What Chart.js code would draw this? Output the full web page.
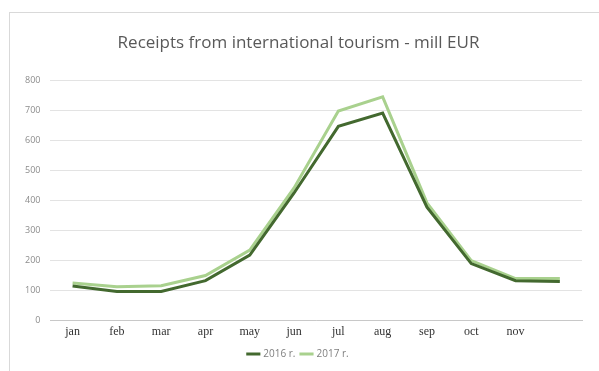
<!DOCTYPE html>
<html>
<head>
<meta charset="utf-8">
<script src="https://cdn.jsdelivr.net/npm/chart.js@4"></script>
<style>
  html, body { margin: 0; padding: 0; background: #fff; }
  #wrap { position: relative; width: 599px; height: 371px; }
</style>
</head>
<body>
<div id="wrap"><canvas id="grafico" width="599" height="371"></canvas></div>
<script>
// data
const meses = ['jan', 'feb', 'mar', 'apr', 'may', 'jun', 'jul', 'aug', 'sep', 'oct', 'nov', ''];
const valores2016 = [115, 97, 97, 133, 218, 425, 647, 691, 378, 190, 133, 130];
const valores2017 = [125, 113, 116, 150, 235, 442, 698, 745, 392, 200, 140, 140];
const yTicks = [0, 100, 200, 300, 400, 500, 600, 700, 800];

// frame around the chart area
const moldura = {
  id: 'moldura',
  beforeDraw(chart) {
    const ctx = chart.ctx;
    ctx.save();
    ctx.strokeStyle = '#d9d9d9';
    ctx.lineWidth = 1;
    ctx.strokeRect(9.5, 12.5, 620, 400);
    ctx.restore();
  }
};

const ctx = document.getElementById('grafico');

new Chart(ctx, {
  type: 'line',
  data: {
    labels: meses,
    datasets: [
      {
        label: '2016 r.',
        data: valores2016,
        borderColor: '#43692f',
        backgroundColor: '#43692f',
        borderWidth: 3,
        pointRadius: 0,
        tension: 0
      },
      {
        label: '2017 r.',
        data: valores2017,
        borderColor: '#a9d18e',
        backgroundColor: '#a9d18e',
        borderWidth: 3,
        pointRadius: 0,
        tension: 0
      }
    ]
  },
  plugins: [moldura],
  options: {
    responsive: false,
    animation: false,
    devicePixelRatio: 1,
    layout: { padding: { left: 15, right: 17, top: 10, bottom: 2 } },
    plugins: {
      title: {
        display: true,
        text: 'Receipts from international tourism - mill EUR',
        color: '#595959',
        font: { family: 'Open Sans', size: 17, weight: 'normal' },
        padding: { top: 23, bottom: 27 }
      },
      legend: {
        position: 'bottom',
        labels: {
          usePointStyle: true,
          pointStyle: 'line',
          boxWidth: 30,
          padding: 6,
          color: '#7f7f7f',
          font: { family: 'Open Sans', size: 10 }
        }
      },
      tooltip: { enabled: false }
    },
    scales: {
      x: {
        offset: true,
        grid: { display: false, drawTicks: false },
        border: { color: '#c8c8c8', dash: [2, 2] },
        ticks: {
          color: '#333333',
          font: { family: 'Liberation Serif', size: 12 },
          padding: 4,
          maxRotation: 0,
          autoSkip: false
        }
      },
      y: {
        min: 0,
        max: 800,
        afterBuildTicks(axis) {
          axis.ticks = yTicks.map(v => ({ value: v }));
        },
        grid: { color: '#e3e3e3', drawTicks: false },
        border: { display: false },
        ticks: {
          color: '#8c8c8c',
          font: { family: 'Open Sans', size: 9 },
          padding: 10
        }
      }
    }
  }
});
</script>
</body>
</html>
